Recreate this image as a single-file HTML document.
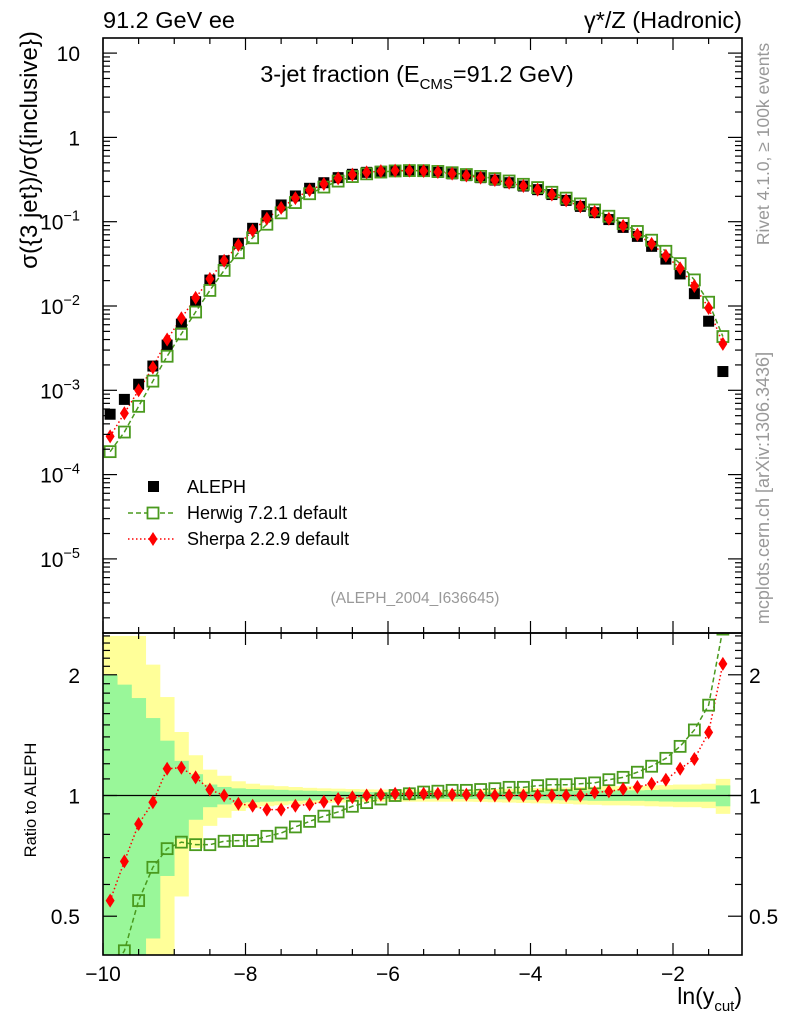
<!DOCTYPE html>
<html><head><meta charset="utf-8"><style>
html,body{margin:0;padding:0;background:#fff;}
svg{display:block;font-family:"Liberation Sans","DejaVu Sans",sans-serif;}
</style></head><body>
<svg id="chart" width="786" height="1024" viewBox="0 0 786 1024" xmlns="http://www.w3.org/2000/svg">
<g id="bands"></g>
<g id="marks"></g>
<g id="axes"></g>
<text x="103" y="28" font-size="23.5">91.2 GeV ee</text>
<text x="742" y="28" font-size="23.5" text-anchor="end">γ*/Z (Hadronic)</text>
<text x="417" y="82" font-size="23.5" text-anchor="middle">3-jet fraction (E<tspan font-size="15" dy="7">CMS</tspan><tspan dy="-7">=91.2 GeV)</tspan></text>
<text x="415" y="603" font-size="15.5" fill="#999" text-anchor="middle">(ALEPH_2004_I636645)</text>
<text transform="translate(37,150) rotate(-90)" font-size="24" text-anchor="middle">σ({3 jet})/σ({inclusive})</text>
<text transform="translate(36,800) rotate(-90)" font-size="16.5" text-anchor="middle">Ratio to ALEPH</text>
<text x="742" y="1004" font-size="23" text-anchor="end">ln(y<tspan font-size="15" dy="7">cut</tspan><tspan dy="-7">)</tspan></text>
<text transform="translate(769,144) rotate(-90)" font-size="17.5" fill="#999" text-anchor="middle">Rivet 4.1.0, ≥ 100k events</text>
<text transform="translate(769,488) rotate(-90)" font-size="18" fill="#999" text-anchor="middle">mcplots.cern.ch [arXiv:1306.3436]</text>
<g>
<rect x="148" y="481" width="11" height="11" fill="#000"/>
<text x="187" y="493" font-size="18">ALEPH</text>
<line x1="128" y1="513" x2="176" y2="513" stroke="#4a9a1e" stroke-width="1.5" stroke-dasharray="5,3"/>
<rect x="147.5" y="507.5" width="11" height="11" fill="#fff" stroke="#4a9a1e" stroke-width="1.8"/>
<text x="187" y="519" font-size="18">Herwig 7.2.1 default</text>
<line x1="128" y1="539" x2="176" y2="539" stroke="#f00" stroke-width="1.5" stroke-dasharray="1.5,2.5"/>
<path d="M153,532 L157.5,539 L153,546 L148.5,539Z" fill="#f00"/>
<text x="187" y="545" font-size="18">Sherpa 2.2.9 default</text>
</g>
</svg>
<script>
const binCenters=[-9.9,-9.7,-9.5,-9.3,-9.1,-8.9,-8.7,-8.5,-8.3,-8.1,-7.9,-7.7,-7.5,-7.3,-7.1,-6.9,-6.7,-6.5,-6.3,-6.1,-5.9,-5.7,-5.5,-5.3,-5.1,-4.9,-4.7,-4.5,-4.3,-4.1,-3.9,-3.7,-3.5,-3.3,-3.1,-2.9,-2.7,-2.5,-2.3,-2.1,-1.9,-1.7,-1.5,-1.3];
const alephValues=[5.2e-4,7.8e-4,1.18e-3,1.94e-3,3.44e-3,6.1e-3,1.125e-2,2.03e-2,3.44e-2,5.55e-2,8.35e-2,0.118,0.158,0.202,0.249,0.290,0.333,0.365,0.385,0.396,0.400,0.400,0.395,0.385,0.370,0.352,0.333,0.312,0.290,0.265,0.240,0.210,0.179,0.152,0.128,0.106,0.0856,0.067,0.051,0.036,0.024,0.014,0.0066,0.00167];
const herwigRatio=[0.36,0.41,0.547,0.662,0.737,0.765,0.754,0.754,0.769,0.772,0.772,0.791,0.806,0.835,0.862,0.888,0.91,0.94,0.96,0.98,1.0,1.01,1.02,1.025,1.03,1.03,1.035,1.04,1.048,1.048,1.058,1.064,1.064,1.07,1.075,1.095,1.11,1.143,1.183,1.238,1.326,1.457,1.68,2.6];
const sherpaRatio=[0.547,0.685,0.849,0.962,1.166,1.173,1.11,1.034,1.0,0.954,0.943,0.922,0.922,0.943,0.95,0.965,0.98,0.99,1.0,1.005,1.01,1.01,1.01,1.01,1.005,1.005,1.0,1.0,1.0,1.0,1.0,1.0,1.0,1.0,1.018,1.024,1.038,1.05,1.07,1.095,1.166,1.233,1.437,2.13];
const statErr=[1.0,0.89,0.75,0.56,0.37,0.22,0.13,0.065,0.05,0.042,0.038,0.035,0.033,0.03,0.028,0.026,0.024,0.022,0.02,0.02,0.02,0.02,0.02,0.02,0.02,0.02,0.02,0.022,0.022,0.024,0.025,0.025,0.027,0.028,0.03,0.03,0.03,0.03,0.032,0.034,0.035,0.035,0.035,0.06];
const totErr=[1.5,1.5,1.5,1.12,0.76,0.44,0.26,0.16,0.12,0.085,0.07,0.06,0.055,0.05,0.045,0.042,0.04,0.038,0.036,0.035,0.035,0.035,0.035,0.035,0.035,0.035,0.036,0.038,0.04,0.042,0.044,0.045,0.047,0.05,0.052,0.055,0.055,0.057,0.06,0.062,0.065,0.065,0.07,0.1];
const mainTickLabels=["10","1","10<sup>-1</sup>","10<sup>-2</sup>","10<sup>-3</sup>","10<sup>-4</sup>","10<sup>-5</sup>"];
const xTickLabels=["−10","−8","−6","−4","−2"];
const ratioTickLabels=["0.5","1","2"];

const NS="http://www.w3.org/2000/svg";
const L=103,R=742,T=38,MB=633,RB=955;
const BW=0.2;
function X(v){return L+(v+10)*71.25;}
function Y(v){return 221.7-84.3*(Math.log10(v)+1);}
function YR(r){return 795.5-401*Math.log10(r);}
function el(tag,attrs,parent){const e=document.createElementNS(NS,tag);for(const k in attrs)e.setAttribute(k,attrs[k]);parent.appendChild(e);return e;}
const bands=document.getElementById('bands'),marks=document.getElementById('marks'),axes=document.getElementById('axes');
function clampR(y){return Math.max(MB,Math.min(RB,y));}

[[totErr,'#ffff99','total'],[statErr,'#99f799','stat']].forEach(([arr,col,nm])=>{
 binCenters.forEach((c,i)=>{
  const lo=1-arr[i],hi=1+arr[i];
  const yt=clampR(YR(hi)),yb=lo<=0.397?RB:clampR(YR(lo));
  const r=el('rect',{x:X(c-BW/2),y:yt,width:X(c+BW/2)-X(c-BW/2)+0.3,height:yb-yt,fill:col},bands);
  
  
 });
});
const ul=el('line',{x1:L,x2:R,y1:YR(1),y2:YR(1),stroke:'#000','stroke-width':1.2},marks);



const herwigValues=alephValues.map((a,i)=>a*herwigRatio[i]);
const sherpaValues=alephValues.map((a,i)=>a*sherpaRatio[i]);

const defs=el('defs',{},marks);
const clipM=el('clipPath',{id:'cm'},defs);el('rect',{x:L,y:T,width:R-L,height:MB-T},clipM);
const clipR=el('clipPath',{id:'cr'},defs);el('rect',{x:L,y:MB,width:R-L,height:RB-MB},clipR);
const gm=el('g',{'clip-path':'url(#cm)'},marks),gr=el('g',{'clip-path':'url(#cr)'},marks);

function line(vals,fy,g,col,dash,name){
 const p=el('polyline',{points:binCenters.map((c,i)=>X(c)+','+fy(vals[i])).join(' '),fill:'none',stroke:col,'stroke-width':1.5,'stroke-dasharray':dash},g);
 
 
}
line(herwigValues,Y,gm,'#4a9a1e','5,3','herwig-line');
line(sherpaValues,Y,gm,'#f00','1.5,2.5','sherpa-line');
line(herwigRatio,YR,gr,'#4a9a1e','5,3','herwig-ratio-line');
line(sherpaRatio,YR,gr,'#f00','1.5,2.5','sherpa-ratio-line');

binCenters.forEach((c,i)=>{
 const x=X(c);
 const a=el('rect',{x:x-5.5,y:Y(alephValues[i])-5.5,width:11,height:11,fill:'#000'},gm);
 
 
 [[herwigValues[i],Y,gm,'herwig-point'],[herwigRatio[i],YR,gr,'herwig-ratio-point']].forEach(([v,f,g,n])=>{
  const s=el('rect',{x:x-5.5,y:f(v)-5.5,width:11,height:11,fill:'none',stroke:'#4a9a1e','stroke-width':1.8},g);
  
  
 });
 [[sherpaValues[i],Y,gm,'sherpa-point'],[sherpaRatio[i],YR,gr,'sherpa-ratio-point']].forEach(([v,f,g,n])=>{
  const y=f(v);
  const d=el('path',{d:`M${x},${y-7} L${x+4.5},${y} L${x},${y+7} L${x-4.5},${y}Z`,fill:'#f00'},g);
  
  
 });
});

[[T,MB],[MB,RB]].forEach(([t,b],k)=>{
 const f=el('rect',{x:L,y:t,width:R-L,height:b-t,fill:'none',stroke:'#000','stroke-width':1.6},axes);
 
 
});
function tick(x1,y1,x2,y2){el('line',{x1,y1,x2,y2,stroke:'#000','stroke-width':1.2},axes);}
for(let v=-10;v<=-1.05;v+=0.5){
 const x=X(v),maj=Math.abs(v-Math.round(v))<1e-6&&Math.round(v)%2===0;
 const len=maj?12:6;
 [T,MB].forEach(y=>tick(x,y,x,y+len));
 [MB,RB].forEach(y=>tick(x,y,x,y-len));
}
xTickLabels.forEach((lab,i)=>{
 const t=el('text',{x:X(-10+2*i),y:981,'font-size':21,'text-anchor':'middle'},axes);t.textContent=lab;
 
 
});
for(let e=1;e>=-6;e--){
 for(let m=1;m<10;m++){
  const v=m*Math.pow(10,e),y=Y(v);
  if(y<T||y>MB)continue;
  const len=m===1?14:7;
  tick(L,y,L+len,y);tick(R,y,R-len,y);
 }
}
mainTickLabels.forEach((lab,i)=>{
 const y=Y(Math.pow(10,1-i));
 const t=el('text',{x:80,y:y+8,'font-size':21,'text-anchor':'end'},axes);
 
 
 if(i<2)t.textContent=lab;else{t.textContent='10';const s=el('tspan',{'font-size':14.5,dy:-9},t);s.textContent='−'+(i-1);}
});
[0.4,0.5,0.6,0.7,0.8,0.9,1,1.1,1.2,1.3,1.4,1.5,1.6,1.7,1.8,1.9,2,2.1,2.2,2.3,2.4,2.5].forEach(r=>{
 const y=YR(r);if(y<MB||y>RB)return;
 const maj=(r===0.5||r===1||r===2),len=maj?14:7;
 tick(L,y,L+len,y);tick(R,y,R-len,y);
});
ratioTickLabels.forEach(lab=>{
 const y=YR(parseFloat(lab));
 const t=el('text',{x:80,y:y+8,'font-size':21,'text-anchor':'end'},axes);t.textContent=lab;
 
 
 const t2=el('text',{x:749,y:y+8,'font-size':21},axes);t2.textContent=lab;
 
 
});
</script>
</body></html>
